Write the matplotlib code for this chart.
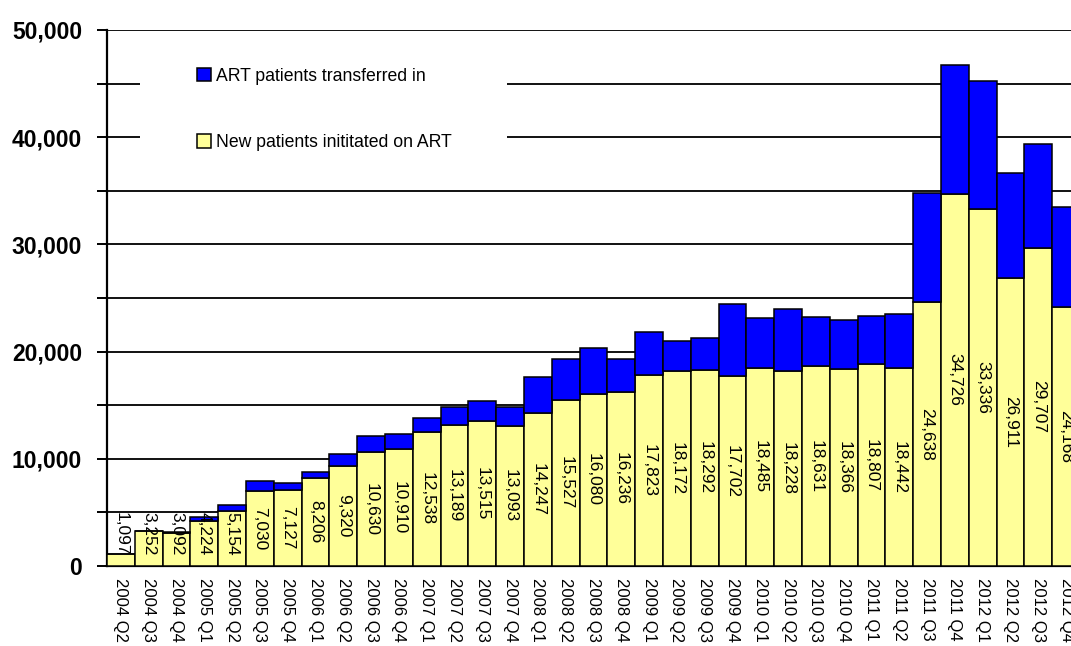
import matplotlib.pyplot as plt
from matplotlib.patches import Rectangle
from matplotlib.ticker import MultipleLocator, FuncFormatter

plt.rcParams['font.family'] = ['Liberation Sans', 'DejaVu Sans']

# quarterly numbers
quarters = ['2004 Q2', '2004 Q3', '2004 Q4',
            '2005 Q1', '2005 Q2', '2005 Q3', '2005 Q4',
            '2006 Q1', '2006 Q2', '2006 Q3', '2006 Q4',
            '2007 Q1', '2007 Q2', '2007 Q3', '2007 Q4',
            '2008 Q1', '2008 Q2', '2008 Q3', '2008 Q4',
            '2009 Q1', '2009 Q2', '2009 Q3', '2009 Q4',
            '2010 Q1', '2010 Q2', '2010 Q3', '2010 Q4',
            '2011 Q1', '2011 Q2', '2011 Q3', '2011 Q4',
            '2012 Q1', '2012 Q2', '2012 Q3', '2012 Q4']

new_patients = [1097, 3252, 3092,
                4224, 5154, 7030, 7127,
                8206, 9320, 10630, 10910,
                12538, 13189, 13515, 13093,
                14247, 15527, 16080, 16236,
                17823, 18172, 18292, 17702,
                18485, 18228, 18631, 18366,
                18807, 18442, 24638, 34726,
                33336, 26911, 29707, 24168]

transferred_in = [40, 50, 60,
                  376, 506, 870, 648,
                  594, 1160, 1500, 1410,
                  1240, 1680, 1910, 1770,
                  3360, 3750, 4230, 3050,
                  4010, 2790, 2980, 6700,
                  4660, 5790, 4620, 4580,
                  4490, 5040, 10190, 12010,
                  11910, 9710, 9680, 9280]

yellow = '#FFFF99'
blue = '#0000FF'

fig = plt.figure(figsize=(10.71, 6.46), dpi=100)
# axes runs past the right edge so the last bar is cut off like the original
ax = fig.add_axes([107 / 1071, 1 - 566 / 646, 973 / 1071, 536 / 646])

x = list(range(len(quarters)))
ax.bar(x, new_patients, width=1.0, color=yellow, edgecolor='black',
       linewidth=1.1, zorder=3, label='New patients inititated on ART')
ax.bar(x, transferred_in, width=1.0, bottom=new_patients, color=blue,
       edgecolor='black', linewidth=1.1, zorder=3,
       label='ART patients transferred in')

# value labels in the middle of the yellow part
for i, v in enumerate(new_patients):
    ax.text(i, max(v / 2, 3000), f'{v:,}', rotation=270, ha='center',
            va='center', fontsize=12.5, zorder=5)

ax.set_xlim(-0.5, len(quarters) - 0.5)
ax.set_ylim(0, 50000)
ax.yaxis.set_major_locator(MultipleLocator(10000))
ax.yaxis.set_minor_locator(MultipleLocator(5000))
ax.yaxis.set_major_formatter(FuncFormatter(lambda v, p: f'{int(v):,}'))
ax.grid(axis='y', which='both', color='#111111', linewidth=1.4, zorder=0)
ax.set_axisbelow(True)

ax.tick_params(axis='y', which='both', length=7, width=1.4, pad=11,
               labelsize=16.5)
for lab in ax.get_yticklabels():
    lab.set_fontweight('bold')
ax.set_xticks(x)
ax.set_xticklabels(quarters, rotation=270, fontsize=12, va='top',
                   ha='center')
ax.tick_params(axis='x', length=0, pad=9)

for side in ['top', 'right']:
    ax.spines[side].set_visible(False)
ax.spines['left'].set_linewidth(1.6)
ax.spines['bottom'].set_linewidth(1.6)

# white area behind the legend hides the gridlines there
ax.add_patch(Rectangle((0.034, 0.74), 0.377, 0.22, transform=ax.transAxes,
                       facecolor='white', edgecolor='none', zorder=1))

handles, labels = ax.get_legend_handles_labels()
leg = ax.legend(handles[::-1], labels[::-1], loc='upper left',
                bbox_to_anchor=(0.0925, 0.93), frameon=False,
                fontsize=12.7, handlelength=0.8, handleheight=0.8,
                handletextpad=0.3, labelspacing=2.8, borderpad=0,
                borderaxespad=0)

fig.savefig('out.png', dpi=100)
